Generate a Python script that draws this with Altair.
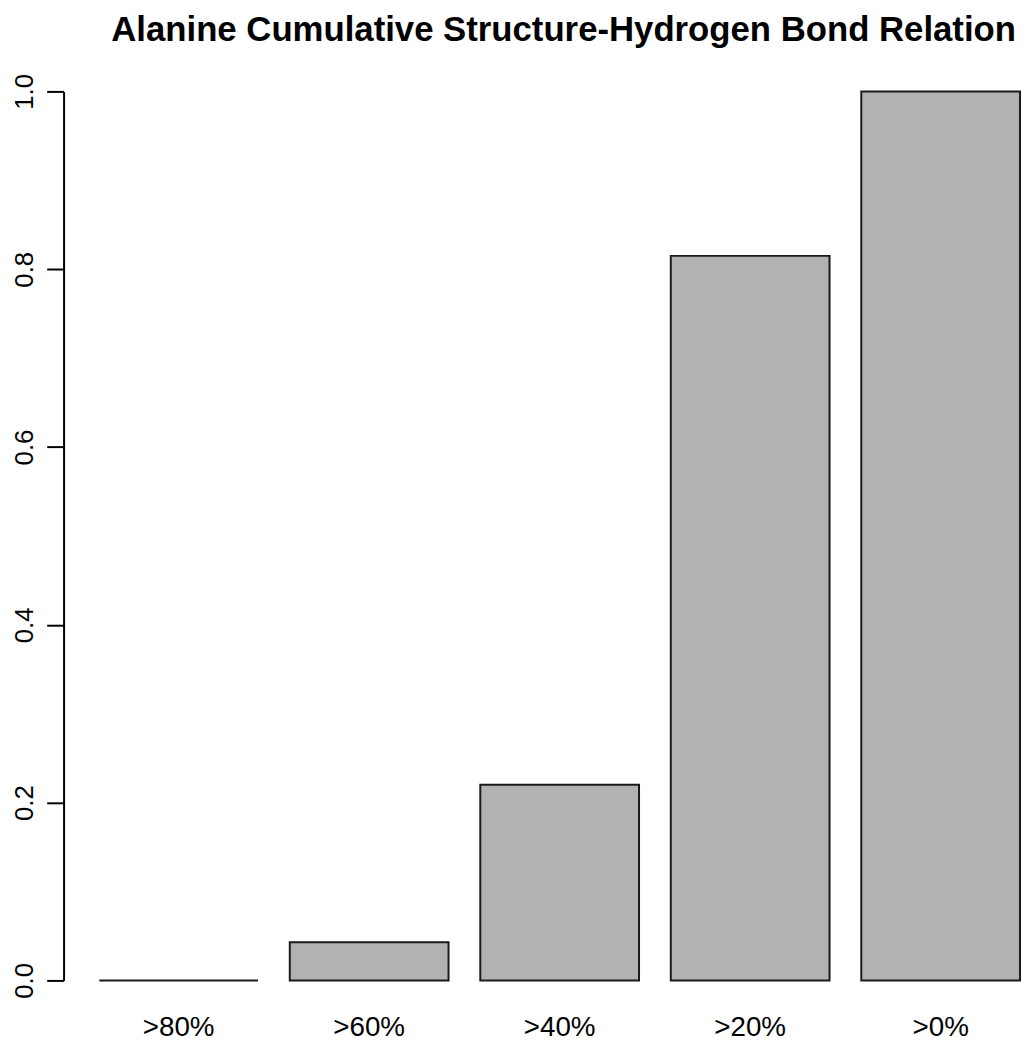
import altair as alt
import pandas as pd

categories = [">80%", ">60%", ">40%", ">20%", ">0%"]
values = [0.0, 0.043, 0.22, 0.815, 1.0]
y_ticks = [0.0, 0.2, 0.4, 0.6, 0.8, 1.0]

df = pd.DataFrame({"cat": categories, "val": values})

chart = alt.Chart(df).mark_bar(
    fill="#b2b2b2", stroke="#1a1a1a", strokeWidth=2
).encode(
    x=alt.X("cat:N", sort=categories, title=None,
            scale=alt.Scale(paddingInner=0.1667, paddingOuter=0.099, align=0.947),
            axis=alt.Axis(domain=False, ticks=False, tickSize=0, labelAngle=0,
                          labelFont="Liberation Sans", labelFontSize=28,
                          labelColor="#000000", labelBaseline="alphabetic",
                          labelPadding=56)),
    y=alt.Y("val:Q", title=None,
            scale=alt.Scale(domain=[0, 1], nice=False, zero=True),
            axis=alt.Axis(values=y_ticks, format=".1f", grid=False,
                          domainColor="#000000", domainWidth=2,
                          tickColor="#000000", tickWidth=2, tickSize=17,
                          labelAngle=-90, labelAlign="center", labelBaseline="alphabetic",
                          labelPadding=14, labelFont="Liberation Sans",
                          labelFontSize=26, labelColor="#000000"))
).properties(
    width=966,
    height=896,
    title=alt.TitleParams(
        "Alanine Cumulative Structure-Hydrogen Bond Relation",
        font="Liberation Sans", fontSize=35, fontWeight="bold", color="#000000",
        anchor="middle", dx=21, offset=26),
    autosize=alt.AutoSizeParams(type="none"),
    padding={"left": 56, "top": 80, "right": 4, "bottom": 58}
).configure_view(stroke=None)

chart.save("out.html", embed_options={"renderer": "svg", "actions": False})
